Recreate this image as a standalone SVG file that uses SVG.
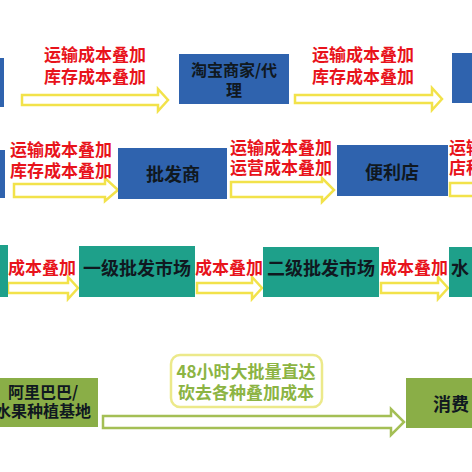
<svg xmlns="http://www.w3.org/2000/svg" width="472" height="472" viewBox="0 0 472 472">
<style>
text{font-family:"Noto Sans CJK SC","Noto Sans",sans-serif;font-weight:bold}
.blue{fill:#2f63ae}
.teal{fill:#1ea08a}
.green{fill:#8aae47}
.lbl{fill:#e8131b;font-size:17px}
.dark{fill:#101820;font-size:18px}
.arrow{fill:#ffffff;stroke:#f2e24a;stroke-width:2.5;stroke-linejoin:miter}
.garrow{fill:#ffffff;stroke:#a4bf55;stroke-width:2.5}
.note{fill:#8cb443;font-size:17px}
.c{text-anchor:middle}
</style>
<rect width="472" height="472" fill="#ffffff"/>
<g id="connectors">
<path class="arrow" d="M22,95 H158 V89 L168,100 L158,111 V105 H22 Z"/>
<path class="arrow" d="M295,95 H432 V88 L442,99 L432,110 V103 H295 Z"/>
<path class="arrow" d="M14,184 H105 V178 L118,190 L105,201 V197 H14 Z"/>
<path class="arrow" d="M231,182 H322 V178 L334,190 L322,202 V197 H231 Z"/>
<path class="arrow" d="M450,183 H520 V196 H450 Z"/>
<path class="arrow" d="M8,283 H68 V277 L78,288 L68,299 V293 H8 Z"/>
<path class="arrow" d="M197,283 H252 V277 L262,288 L252,299 V293 H197 Z"/>
<path class="arrow" d="M381,283 H438 V277 L448,288 L438,299 V293 H381 Z"/>
<path class="garrow" d="M103,416 H391 V409 L404,422 L391,435 V428 H103 Z"/>
<text class="lbl c" x="95" y="61">运输成本叠加</text>
<text class="lbl c" x="95" y="83">库存成本叠加</text>
<text class="lbl c" x="363" y="61">运输成本叠加</text>
<text class="lbl c" x="363" y="83">库存成本叠加</text>
<text class="lbl c" x="61" y="156">运输成本叠加</text>
<text class="lbl c" x="61" y="177">库存成本叠加</text>
<text class="lbl c" x="281" y="154">运输成本叠加</text>
<text class="lbl c" x="281" y="174">运营成本叠加</text>
<text class="lbl" x="449" y="154">运输</text>
<text class="lbl" x="449" y="174">店租</text>
<text class="lbl" x="8" y="274">成本叠加</text>
<text class="lbl" x="195" y="274">成本叠加</text>
<text class="lbl" x="380" y="274">成本叠加</text>
<rect x="171" y="355" width="151" height="52" rx="9" fill="#ffffff" stroke="#ece98a" stroke-width="2.5"/>
<text class="note c" x="246" y="378">48小时大批量直达</text>
<text class="note c" x="246" y="399">砍去各种叠加成本</text>
</g>
<g id="node-left1"><rect class="blue" x="-10" y="58" width="14" height="49"/></g>
<g id="node-taobao">
<rect class="blue" x="179" y="54" width="110" height="50"/>
<text class="dark c" x="234" y="76" style="font-size:16px">淘宝商家/代</text>
<text class="dark c" x="234" y="96" style="font-size:16px">理</text>
</g>
<g id="node-right1"><rect class="blue" x="452" y="53" width="30" height="50"/></g>
<g id="node-left2"><rect class="blue" x="-10" y="150" width="15" height="48"/></g>
<g id="node-wholesaler">
<rect class="blue" x="118" y="148" width="109" height="51"/>
<text class="dark c" x="173" y="181">批发商</text>
</g>
<g id="node-store">
<rect class="blue" x="337" y="145" width="111" height="51"/>
<text class="dark c" x="392" y="179">便利店</text>
</g>
<g id="node-left3"><rect class="teal" x="-10" y="245" width="18" height="52"/></g>
<g id="node-market1">
<rect class="teal" x="79" y="246" width="116" height="51"/>
<text class="dark c" x="137" y="275">一级批发市场</text>
</g>
<g id="node-market2">
<rect class="teal" x="263" y="247" width="116" height="50"/>
<text class="dark c" x="321" y="275">二级批发市场</text>
</g>
<g id="node-right3">
<rect class="teal" x="449" y="247" width="33" height="50"/>
<text class="dark" x="451" y="275">水</text>
</g>
<g id="node-alibaba">
<rect class="green" x="-12" y="378" width="110" height="49"/>
<text class="dark c" x="43" y="398" style="font-size:16px">阿里巴巴/</text>
<text class="dark c" x="43" y="417" style="font-size:16px">水果种植基地</text>
</g>
<g id="node-consumer">
<rect class="green" x="406" y="378" width="76" height="50"/>
<text class="dark" x="433" y="411">消费</text>
</g>
</svg>
